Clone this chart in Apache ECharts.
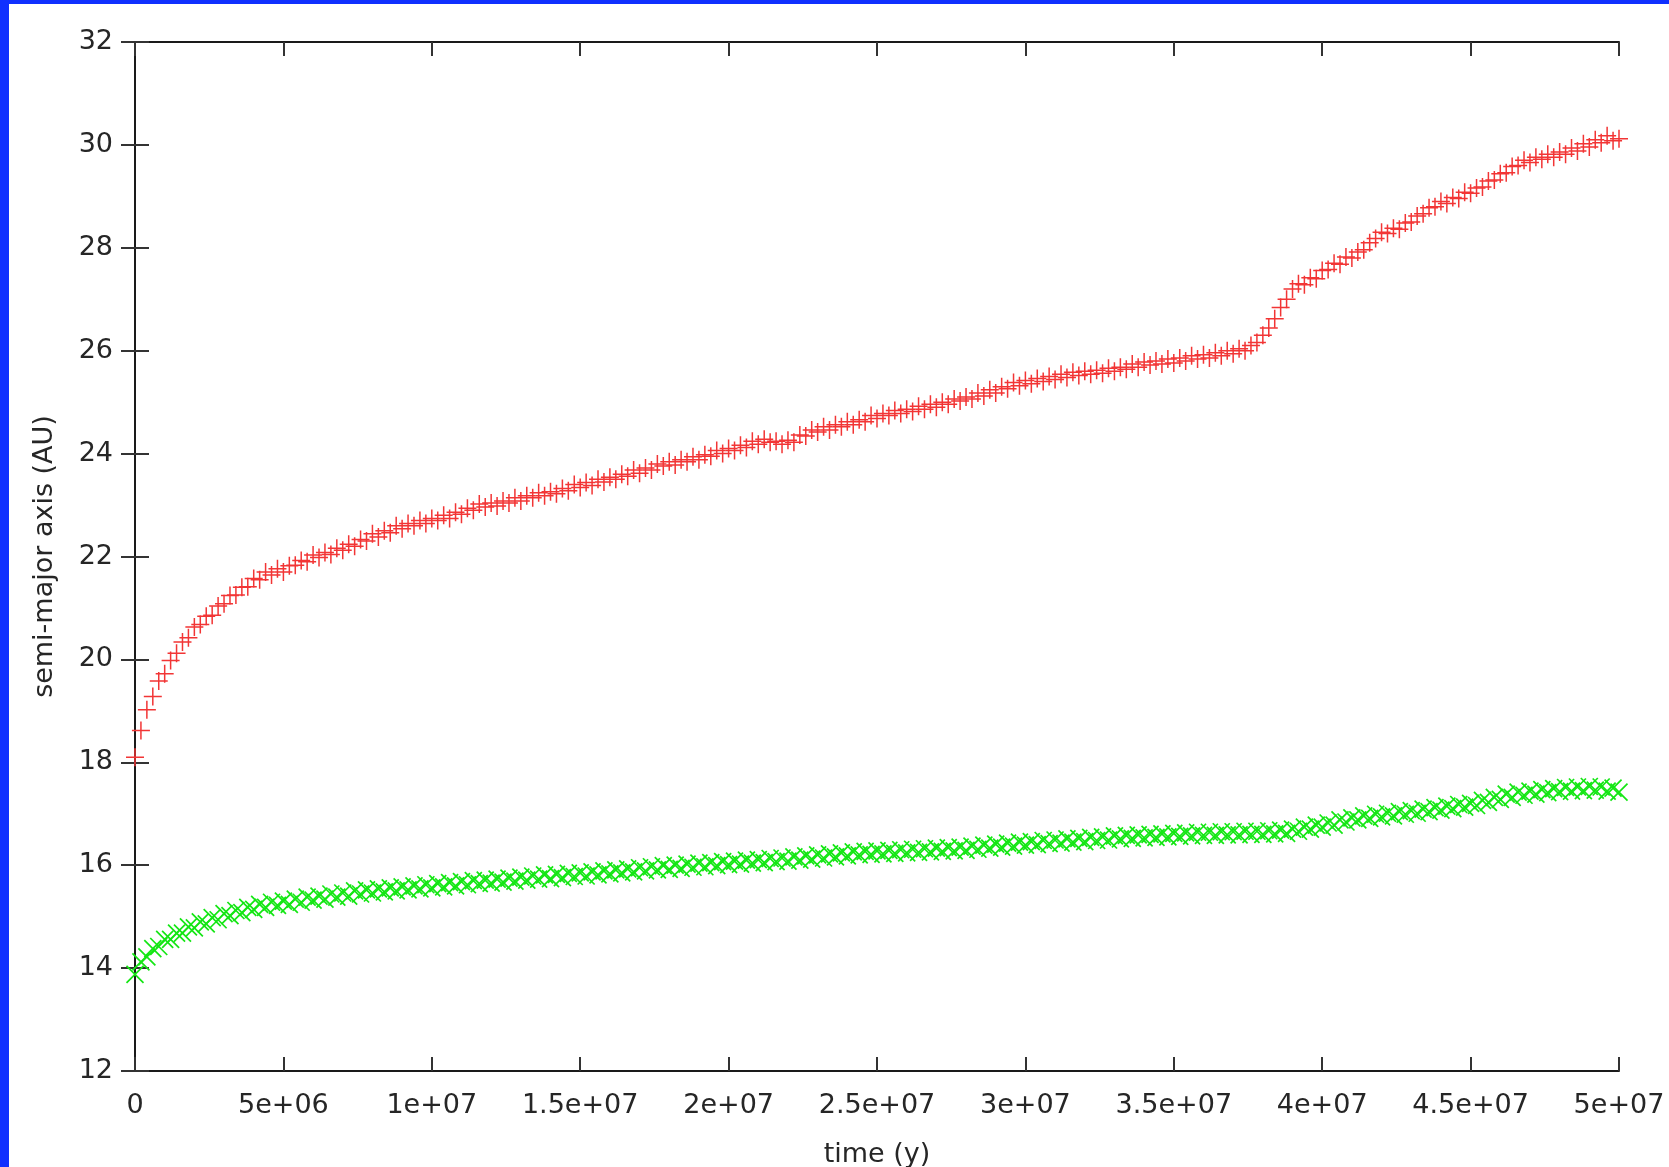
<!DOCTYPE html>
<html>
<head>
<meta charset="utf-8">
<script src="https://cdn.jsdelivr.net/npm/echarts@6/dist/echarts.min.js"></script>
<style>
html,body{margin:0;padding:0;width:1669px;height:1167px;background:#1030ff;overflow:hidden;}
#chart{position:absolute;left:9px;top:4px;width:1660px;height:1163px;background:#ffffff;}
</style>
</head>
<body>
<div id="chart"></div>
<script>
// time in millions of years
const timeMyr = [
0,0.2,0.4,0.6,0.8,1,1.2,1.4,1.6,1.8,2,2.2,2.4,2.6,2.8,3,3.2,3.4,3.6,3.8,4,4.2,4.4,4.6,4.8,5,
5.2,5.4,5.6,5.8,6,6.2,6.4,6.6,6.8,7,7.2,7.4,7.6,7.8,8,8.2,8.4,8.6,8.8,9,9.2,9.4,9.6,9.8,10,
10.2,10.4,10.6,10.8,11,11.2,11.4,11.6,11.8,12,12.2,12.4,12.6,12.8,13,13.2,13.4,13.6,13.8,14,14.2,14.4,14.6,14.8,15,
15.2,15.4,15.6,15.8,16,16.2,16.4,16.6,16.8,17,17.2,17.4,17.6,17.8,18,18.2,18.4,18.6,18.8,19,19.2,19.4,19.6,19.8,20,
20.2,20.4,20.6,20.8,21,21.2,21.4,21.6,21.8,22,22.2,22.4,22.6,22.8,23,23.2,23.4,23.6,23.8,24,24.2,24.4,24.6,24.8,25,
25.2,25.4,25.6,25.8,26,26.2,26.4,26.6,26.8,27,27.2,27.4,27.6,27.8,28,28.2,28.4,28.6,28.8,29,29.2,29.4,29.6,29.8,30,
30.2,30.4,30.6,30.8,31,31.2,31.4,31.6,31.8,32,32.2,32.4,32.6,32.8,33,33.2,33.4,33.6,33.8,34,34.2,34.4,34.6,34.8,35,
35.2,35.4,35.6,35.8,36,36.2,36.4,36.6,36.8,37,37.2,37.4,37.6,37.8,38,38.2,38.4,38.6,38.8,39,39.2,39.4,39.6,39.8,40,
40.2,40.4,40.6,40.8,41,41.2,41.4,41.6,41.8,42,42.2,42.4,42.6,42.8,43,43.2,43.4,43.6,43.8,44,44.2,44.4,44.6,44.8,45,
45.2,45.4,45.6,45.8,46,46.2,46.4,46.6,46.8,47,47.2,47.4,47.6,47.8,48,48.2,48.4,48.6,48.8,49,49.2,49.4,49.6,49.8,50
];
// outer body semi-major axis (AU), red "+"
const redAxis = [
18.10,18.62,19.02,19.28,19.58,19.72,19.98,20.12,20.34,20.42,20.63,20.68,20.84,20.86,21.04,21.08,21.24,21.25,21.40,21.41,21.57,21.55,21.70,21.64,21.76,21.70,
21.82,21.83,21.92,21.90,22.03,21.98,22.08,22.04,22.16,22.12,22.24,22.20,22.33,22.30,22.44,22.38,22.50,22.46,22.60,22.54,22.64,22.60,22.70,22.64,22.74,
22.70,22.80,22.74,22.86,22.82,22.94,22.90,23.02,22.96,23.04,22.98,23.08,23.04,23.14,23.08,23.18,23.14,23.24,23.18,23.26,23.22,23.32,23.28,23.40,23.34,
23.44,23.38,23.50,23.45,23.54,23.50,23.60,23.56,23.68,23.62,23.72,23.68,23.80,23.76,23.84,23.78,23.88,23.84,23.94,23.88,23.98,23.95,24.06,24.00,24.10,
24.06,24.16,24.12,24.24,24.18,24.28,24.22,24.24,24.18,24.26,24.22,24.36,24.34,24.46,24.42,24.52,24.46,24.56,24.52,24.62,24.56,24.66,24.62,24.74,24.68,
24.78,24.74,24.84,24.78,24.86,24.82,24.92,24.86,24.96,24.90,25.00,24.96,25.06,25.02,25.10,25.06,25.18,25.12,25.24,25.18,25.30,25.26,25.38,25.32,25.42,
25.36,25.46,25.40,25.50,25.44,25.54,25.48,25.58,25.52,25.60,25.54,25.62,25.56,25.66,25.60,25.68,25.64,25.74,25.68,25.78,25.72,25.80,25.74,25.84,25.76,
25.86,25.80,25.90,25.84,25.92,25.86,25.96,25.90,26.00,25.94,26.04,26.00,26.10,26.16,26.30,26.44,26.62,26.84,27.00,27.20,27.30,27.28,27.42,27.40,27.56,
27.58,27.70,27.68,27.82,27.80,27.92,27.96,28.10,28.18,28.30,28.28,28.38,28.36,28.48,28.50,28.62,28.66,28.78,28.80,28.90,28.86,28.98,28.96,29.08,29.06,
29.16,29.18,29.30,29.32,29.44,29.46,29.58,29.60,29.70,29.66,29.76,29.72,29.82,29.76,29.86,29.82,29.94,29.88,30.02,29.96,30.10,30.04,30.18,30.08,30.12
];
// inner body semi-major axis (AU), green "x"
const greenAxis = [
13.88,14.12,14.22,14.38,14.42,14.56,14.56,14.68,14.68,14.80,14.78,14.90,14.86,14.98,14.94,15.06,15.02,15.12,15.08,15.18,15.14,15.24,15.18,15.28,15.22,15.30,
15.24,15.34,15.28,15.38,15.32,15.40,15.34,15.44,15.38,15.46,15.40,15.50,15.44,15.52,15.46,15.54,15.48,15.56,15.50,15.58,15.52,15.60,15.54,15.62,15.56,
15.64,15.58,15.66,15.60,15.68,15.62,15.70,15.64,15.71,15.65,15.73,15.67,15.75,15.69,15.77,15.71,15.79,15.73,15.81,15.74,15.82,15.76,15.84,15.78,15.85,
15.79,15.87,15.81,15.89,15.83,15.91,15.85,15.93,15.87,15.95,15.89,15.97,15.91,15.99,15.92,16.00,15.94,16.02,15.96,16.04,15.97,16.05,15.99,16.07,16.01,
16.08,16.02,16.10,16.04,16.11,16.05,16.13,16.07,16.14,16.08,16.16,16.10,16.18,16.12,16.20,16.14,16.22,16.16,16.24,16.18,16.26,16.20,16.27,16.21,16.28,
16.22,16.29,16.23,16.30,16.24,16.31,16.25,16.32,16.26,16.33,16.27,16.34,16.28,16.35,16.29,16.37,16.31,16.39,16.33,16.41,16.35,16.43,16.37,16.45,16.39,
16.46,16.40,16.48,16.42,16.49,16.43,16.51,16.45,16.52,16.46,16.54,16.48,16.55,16.49,16.57,16.51,16.58,16.52,16.59,16.53,16.60,16.54,16.61,16.55,16.62,
16.56,16.63,16.57,16.64,16.58,16.64,16.58,16.65,16.59,16.65,16.59,16.66,16.60,16.66,16.60,16.67,16.61,16.68,16.62,16.70,16.66,16.74,16.70,16.78,16.74,
16.82,16.78,16.88,16.84,16.92,16.88,16.96,16.91,16.99,16.94,17.01,16.96,17.04,16.99,17.06,17.01,17.09,17.04,17.12,17.07,17.15,17.10,17.18,17.13,17.20,
17.16,17.26,17.22,17.32,17.28,17.38,17.32,17.42,17.36,17.44,17.38,17.47,17.41,17.49,17.43,17.51,17.44,17.52,17.45,17.53,17.46,17.52,17.44,17.50,17.42
];
const xTickLabels = {0:'0',5000000:'5e+06',10000000:'1e+07',15000000:'1.5e+07',20000000:'2e+07',25000000:'2.5e+07',
  30000000:'3e+07',35000000:'3.5e+07',40000000:'4e+07',45000000:'4.5e+07',50000000:'5e+07'};
const xName = 'time (y)';
const yName = 'semi-major axis (AU)';

const redData = timeMyr.map((t, i) => [t * 1e6, redAxis[i]]);
const greenData = timeMyr.map((t, i) => [t * 1e6, greenAxis[i]]);

const FONT = '"DejaVu Sans", "Liberation Sans", Arial, sans-serif';
const TXT = '#262626';
const lineStyle = {color: '#1a1a1a', width: 2};
const tickStyle = {color: '#333333', width: 2};

const chart = echarts.init(document.getElementById('chart'), null, {renderer: 'canvas'});
chart.setOption({
  animation: false,
  backgroundColor: '#ffffff',
  grid: {left: 126, right: 50, top: 38, bottom: 96, containLabel: false, outerBoundsMode: 'none'},
  xAxis: [{
    type: 'value', min: 0, max: 50000000, interval: 5000000, position: 'bottom',
    name: xName, nameLocation: 'middle', nameGap: 70,
    nameTextStyle: {fontFamily: FONT, fontSize: 27, color: TXT},
    axisLine: {show: true, lineStyle: lineStyle},
    axisTick: {show: true, inside: true, length: 14, lineStyle: tickStyle},
    axisLabel: {show: true, margin: 21, fontFamily: FONT, fontSize: 27, color: TXT,
      formatter: v => xTickLabels[v] !== undefined ? xTickLabels[v] : ''},
    splitLine: {show: false}
  }, {
    type: 'value', min: 0, max: 50000000, interval: 5000000, position: 'top',
    axisLine: {show: true, lineStyle: lineStyle},
    axisTick: {show: true, inside: true, length: 14, lineStyle: tickStyle},
    axisLabel: {show: false}, splitLine: {show: false}
  }],
  yAxis: [{
    type: 'value', min: 12, max: 32, interval: 2, position: 'left',
    name: yName, nameLocation: 'middle', nameGap: 77, nameRotate: 90,
    nameTextStyle: {fontFamily: FONT, fontSize: 27, color: TXT},
    axisLine: {show: true, lineStyle: lineStyle},
    axisTick: {show: true, inside: true, length: 14, lineStyle: tickStyle},
    axisLabel: {show: true, margin: 22, fontFamily: FONT, fontSize: 27, color: TXT, padding: [6, 0, 0, 0]},
    splitLine: {show: false}
  }, {
    type: 'value', min: 12, max: 32, interval: 2, position: 'right',
    axisLine: {show: true, lineStyle: lineStyle},
    axisTick: {show: true, inside: true, length: 14, lineStyle: tickStyle},
    axisLabel: {show: false}, splitLine: {show: false}
  }],
  series: [{
    type: 'scatter', name: 'outer', xAxisIndex: 0, yAxisIndex: 0, data: redData,
    symbol: 'path://M0,7L14,7M7,0L7,14', symbolSize: 18, clip: false,
    itemStyle: {color: 'rgba(0,0,0,0)', borderColor: '#f23535', borderWidth: 1.5, opacity: 1}
  }, {
    type: 'scatter', name: 'inner', xAxisIndex: 0, yAxisIndex: 0, data: greenData,
    symbol: 'path://M0,0L12,12M12,0L0,12', symbolSize: 17, clip: false,
    itemStyle: {color: 'rgba(0,0,0,0)', borderColor: '#14e614', borderWidth: 1.7, opacity: 1}
  }]
});
</script>
</body>
</html>
